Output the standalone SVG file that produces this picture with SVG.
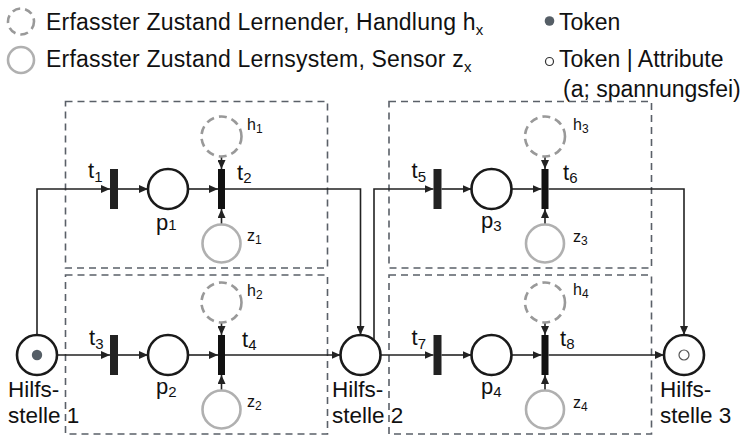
<svg xmlns="http://www.w3.org/2000/svg" width="746" height="436" viewBox="0 0 746 436">
<defs>
<marker id="ah" markerUnits="userSpaceOnUse" markerWidth="9" markerHeight="8" refX="9" refY="4" orient="auto">
<path d="M0,0 L9,4 L0,8 z" fill="#222"/>
</marker>
<style>
text{font-family:"Liberation Sans",Arial,sans-serif;fill:#111}
.big{font-size:22px}
.lg{font-size:23px}
.hs{font-size:22.5px}
.sm{font-size:16px}
.sub{font-size:15px}
.subs{font-size:12px}
.box{fill:none;stroke:#5a6068;stroke-width:1.6;stroke-dasharray:7 5}
.pl{fill:#fff;stroke:#1a1a1a;stroke-width:2.6}
.h{fill:none;stroke:#999;stroke-width:2.6;stroke-dasharray:8 5}
.z{fill:none;stroke:#b0b0b0;stroke-width:2.6}
.tr{fill:#222}
.tr2{fill:#111;stroke:#111;stroke-width:1}
.c{fill:none;stroke:#222;stroke-width:1.6;marker-end:url(#ah)}
</style>
</defs>
<rect width="746" height="436" fill="#fff"/>

<g id="legend">
<circle cx="21" cy="21.5" r="13" class="h"/>
<text x="46" y="30" class="lg" letter-spacing="0.2">Erfasster Zustand Lernender, Handlung h<tspan class="sub" dy="5">x</tspan></text>
<circle cx="21" cy="60" r="13" class="z"/>
<text x="46" y="67" class="lg" letter-spacing="0.2">Erfasster Zustand Lernsystem, Sensor z<tspan class="sub" dy="5">x</tspan></text>
<circle cx="549.5" cy="21" r="4.8" fill="#555e66"/>
<text x="559" y="29.5" class="lg">Token</text>
<circle cx="549.5" cy="61.5" r="4" fill="none" stroke="#333" stroke-width="1.2"/>
<text x="559" y="67" class="lg">Token | Attribute</text>
<text x="563" y="96.5" class="lg">(a; spannungsfei)</text>
</g>

<g id="boxes">
<rect x="65.5" y="101.5" width="262" height="166.5" class="box"/>
<rect x="65.5" y="275" width="262" height="159" class="box"/>
<rect x="389" y="101.5" width="262.5" height="166.5" class="box"/>
<rect x="389" y="275" width="262.5" height="159" class="box"/>
</g>

<g id="connectors">
<path class="c" d="M37,335 V189 H110"/>
<path class="c" d="M118,189 H148"/>
<path class="c" d="M188,189 H218"/>
<path class="c" d="M221.5,157 V169"/>
<path class="c" d="M221.5,224 V209"/>
<path class="c" d="M225,189 H360.5 V335"/>
<path class="c" d="M57,355 H110"/>
<path class="c" d="M118,355 H148"/>
<path class="c" d="M188,355 H218"/>
<path class="c" d="M221.5,323 V335"/>
<path class="c" d="M221.5,390 V375"/>
<path class="c" d="M225,355 H340.5"/>
<path class="c" d="M374,341 V189 H433.5"/>
<path class="c" d="M441.5,189 H471.5"/>
<path class="c" d="M511.5,189 H541.5"/>
<path class="c" d="M545,157 V169"/>
<path class="c" d="M545,224 V209"/>
<path class="c" d="M548.5,189 H684 V335"/>
<path class="c" d="M380.5,355 H433.5"/>
<path class="c" d="M441.5,355 H471.5"/>
<path class="c" d="M511.5,355 H541.5"/>
<path class="c" d="M545,323 V335"/>
<path class="c" d="M545,390 V375"/>
<path class="c" d="M548.5,355 H664"/>
</g>

<g id="hilfsstelle1">
<circle cx="37" cy="355" r="20" class="pl"/>
<circle cx="37" cy="355" r="5.2" fill="#555e66"/>
<text x="8" y="397" class="hs">Hilfs-</text>
<text x="8" y="423" class="hs">stelle 1</text>
</g>
<g id="hilfsstelle2">
<circle cx="360.5" cy="355" r="20" class="pl"/>
<text x="332" y="397" class="hs">Hilfs-</text>
<text x="332" y="423" class="hs">stelle 2</text>
</g>
<g id="hilfsstelle3">
<circle cx="684" cy="355" r="20" class="pl"/>
<circle cx="684" cy="355" r="5" fill="#fff" stroke="#555" stroke-width="1.2"/>
<text x="660" y="397" class="hs">Hilfs-</text>
<text x="660" y="423" class="hs">stelle 3</text>
</g>

<g id="t1"><rect x="110" y="169" width="8" height="40" class="tr"/><text x="88" y="178" class="big">t<tspan class="sub" dy="4">1</tspan></text></g>
<g id="p1"><circle cx="168" cy="189" r="20" class="pl"/><text x="156" y="230" class="big">p<tspan class="sub">1</tspan></text></g>
<g id="t2"><rect x="218.5" y="169.5" width="6" height="39" class="tr2"/><text x="237" y="180" class="big">t<tspan class="sub" dy="3">2</tspan></text></g>
<g id="h1"><circle cx="221.5" cy="136.5" r="20" class="h"/><text x="247" y="130" class="sm">h<tspan class="subs" dy="3">1</tspan></text></g>
<g id="z1"><circle cx="221.5" cy="243.5" r="19" class="z"/><text x="247" y="241" class="sm">z<tspan class="subs" dy="3">1</tspan></text></g>

<g id="t3"><rect x="110" y="335" width="8" height="40" class="tr"/><text x="89" y="345" class="big">t<tspan class="sub" dy="4">3</tspan></text></g>
<g id="p2"><circle cx="168" cy="355" r="20" class="pl"/><text x="156" y="394" class="big">p<tspan class="sub" dy="3">2</tspan></text></g>
<g id="t4"><rect x="218.5" y="335.5" width="6" height="39" class="tr2"/><text x="242" y="347" class="big">t<tspan class="sub" dy="3">4</tspan></text></g>
<g id="h2"><circle cx="221.5" cy="302.5" r="20" class="h"/><text x="247" y="296" class="sm">h<tspan class="subs" dy="3">2</tspan></text></g>
<g id="z2"><circle cx="221.5" cy="409.5" r="19" class="z"/><text x="247" y="407" class="sm">z<tspan class="subs" dy="3">2</tspan></text></g>

<g id="t5"><rect x="433.5" y="169" width="8" height="40" class="tr"/><text x="411.5" y="178" class="big">t<tspan class="sub" dy="4">5</tspan></text></g>
<g id="p3"><circle cx="491.5" cy="189" r="20" class="pl"/><text x="481" y="228" class="big">p<tspan class="sub" dy="3">3</tspan></text></g>
<g id="t6"><rect x="542" y="169.5" width="6" height="39" class="tr2"/><text x="563" y="180" class="big">t<tspan class="sub" dy="3">6</tspan></text></g>
<g id="h3"><circle cx="545" cy="136.5" r="20" class="h"/><text x="573" y="129.5" class="sm">h<tspan class="subs" dy="3">3</tspan></text></g>
<g id="z3"><circle cx="545" cy="243.5" r="19" class="z"/><text x="573" y="241.5" class="sm">z<tspan class="subs" dy="3">3</tspan></text></g>

<g id="t7"><rect x="433.5" y="335" width="8" height="40" class="tr"/><text x="411.5" y="345" class="big">t<tspan class="sub" dy="4">7</tspan></text></g>
<g id="p4"><circle cx="491.5" cy="355" r="20" class="pl"/><text x="481" y="394" class="big">p<tspan class="sub" dy="3">4</tspan></text></g>
<g id="t8"><rect x="542" y="335.5" width="6" height="39" class="tr2"/><text x="560" y="346" class="big">t<tspan class="sub" dy="3">8</tspan></text></g>
<g id="h4"><circle cx="545" cy="302.5" r="20" class="h"/><text x="573" y="295" class="sm">h<tspan class="subs" dy="3">4</tspan></text></g>
<g id="z4"><circle cx="545" cy="409.5" r="19" class="z"/><text x="573" y="408" class="sm">z<tspan class="subs" dy="3">4</tspan></text></g>
</svg>
